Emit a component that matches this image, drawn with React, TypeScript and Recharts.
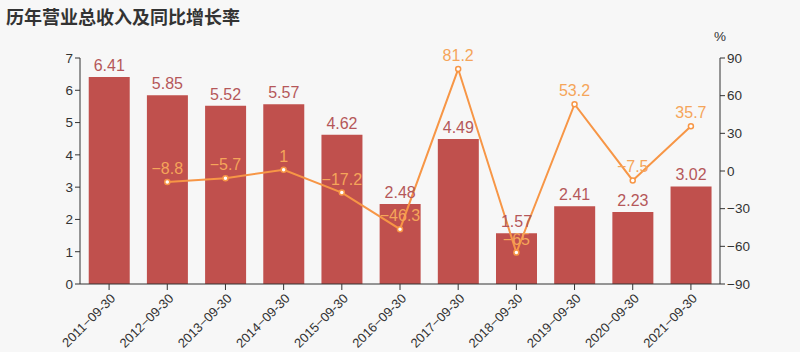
import { ComposedChart, Bar, Line, XAxis, YAxis, LabelList } from 'recharts'

const periods = ['2011-09-30', '2012-09-30', '2013-09-30', '2014-09-30', '2015-09-30', '2016-09-30', '2017-09-30', '2018-09-30', '2019-09-30', '2020-09-30', '2021-09-30']
const revenue = [6.41, 5.85, 5.52, 5.57, 4.62, 2.48, 4.49, 1.57, 2.41, 2.23, 3.02]
const growth: (number | null)[] = [null, -8.8, -5.7, 1, -17.2, -46.3, 81.2, -65, 53.2, -7.5, 35.7]
const leftTicks = [0, 1, 2, 3, 4, 5, 6, 7]
const rightTicks = [-90, -60, -30, 0, 30, 60, 90]

const data = periods.map((p, i) => ({ period: p, revenue: revenue[i], growth: growth[i] }))

const font = '"Liberation Sans", Arial, sans-serif'
const minus = (v: any) => (v == null ? '' : String(v).replace('-', '\u2212'))

const XTick = (props: any) => {
  const { x, y, payload } = props
  return (
    <g transform={`translate(${x},${y + 3})`}>
      <text textAnchor="end" transform="rotate(-45)" fontSize={13} fill="#333" fontFamily={font} dy={8} dx={2}>
        {minus(payload.value)}
      </text>
    </g>
  )
}

export default function App() {
  return (
    <div style={{ position: 'fixed', left: 0, top: 0, width: 800, height: 352, background: '#f7f7f7', fontFamily: font }}>
      <div style={{ position: 'absolute', left: 6, top: 3, fontSize: 18, fontWeight: 'bold', color: '#333', fontFamily: '"Noto Sans CJK SC", sans-serif' }}>
        历年营业总收入及同比增长率
      </div>
      <div style={{ position: 'absolute', left: 714, top: 29, fontSize: 13.5, color: '#333' }}>%</div>
      <ComposedChart width={800} height={352} data={data} margin={{ top: 58, right: 40, left: 40, bottom: 0 }} barCategoryGap="15%">
        <XAxis dataKey="period" interval={0} height={68} tick={<XTick />} stroke="#333" tickLine={{ stroke: '#333' }} />
        <YAxis yAxisId="left" domain={[0, 7]} ticks={leftTicks} width={40} stroke="#333" tick={{ fill: '#333', fontSize: 13.5, fontFamily: font }} tickSize={5} />
        <YAxis yAxisId="right" orientation="right" domain={[-90, 90]} ticks={rightTicks} width={40} stroke="#333" tickFormatter={minus} tick={{ fill: '#333', fontSize: 13.5, fontFamily: font }} tickSize={5} />
        <Bar yAxisId="left" dataKey="revenue" fill="#c0504d" isAnimationActive={false}>
          <LabelList dataKey="revenue" position="top" fill="#b5575a" fontSize={16} fontFamily={font} offset={6} />
        </Bar>
        <Line yAxisId="right" dataKey="growth" stroke="#f79646" strokeWidth={2} isAnimationActive={false}
          dot={{ r: 2.5, fill: '#fff', stroke: '#f79646', strokeWidth: 1.5 }}>
          <LabelList dataKey="growth" position="top" fill="#f5a55a" fontSize={16} fontFamily={font} offset={8} formatter={minus} />
        </Line>
      </ComposedChart>
    </div>
  )
}
